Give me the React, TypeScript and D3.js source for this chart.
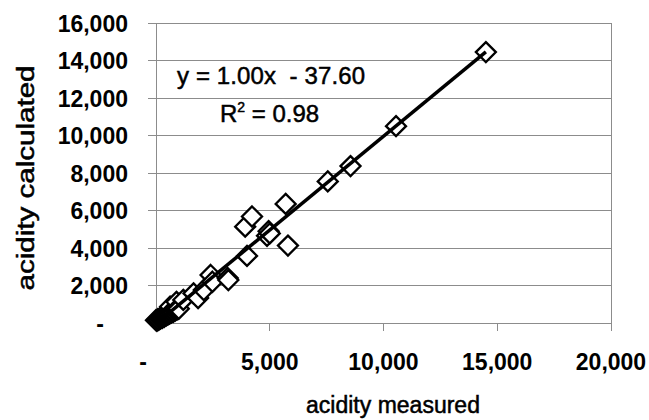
import * as d3 from 'd3';

// acidity measured (x) / acidity calculated (y)
const measured = [
  14500, 10550, 8550, 7550, 5700, 5800, 4220, 3920, 4950, 4880, 5000, 4000,
  3150, 2400, 2480, 3180, 1850, 1650, 2100, 1200, 900, 620,
  0, 40, 80, 120, 160, 200, 240, 280, 320, 360, 400, 440, 480, 520, 560,
  600, 640, 680, 720, 760, 800, 840, 880, 920, 960, 1000,
];
const calculated = [
  14450, 10500, 8370, 7550, 6350, 4130, 5680, 5140, 4900, 4650, 4780, 3580,
  2400, 2560, 2200, 2290, 1330, 1580, 1760, 1230, 1130, 870,
  150, 120, 200, 170, 250, 230, 300, 280, 360, 330, 420, 390, 470, 450, 520,
  500, 580, 560, 630, 600, 690, 660, 740, 710, 800, 760,
];

const xTicks = [0, 5000, 10000, 15000, 20000];
const yTicks = [0, 2000, 4000, 6000, 8000, 10000, 12000, 14000, 16000];

const slope = 1.0;
const intercept = -37.6;

const W = 649;
const H = 420;
const left = 156;
const right = 611;
const top = 23;
const bottom = 323;

const font = "'Liberation Sans', Arial, sans-serif";
const gridColor = '#8c8c8c';

export default function App() {
  const x = d3.scaleLinear().domain([0, 20000]).range([left, right]);
  const y = d3.scaleLinear().domain([0, 16000]).range([bottom, top]);
  const fmt = d3.format(',');
  const label = (v: number) => (v === 0 ? '-' : fmt(v));

  const xMin = d3.min(measured) as number;
  const xMax = d3.max(measured) as number;
  const trend = d3.line<number>()
    .x((d) => x(d))
    .y((d) => y(slope * d + intercept));

  // draw low values first so the crowded corner stacks up into a dark blob
  const order = d3.range(measured.length).sort((a, b) => measured[a] - measured[b]);

  const r = 10;
  const diamond = `M0,${-r}L${r},0L0,${r}L${-r},0Z`;

  // regular text a touch heavier, like the blurred original
  const heavy = { stroke: '#000', strokeWidth: 0.5 };

  return (
    <svg
      width={W}
      height={H}
      style={{ position: 'absolute', left: 0, top: 0, background: '#fff' }}
    >
      <rect x={0} y={0} width={W} height={H} fill="#fff" />

      {/* gridlines */}
      {yTicks.map((t) => (
        <line key={'g' + t} x1={left} x2={right} y1={y(t)} y2={y(t)}
          stroke={gridColor} strokeWidth={1} shapeRendering="crispEdges" />
      ))}
      <rect x={left} y={top} width={right - left} height={bottom - top}
        fill="none" stroke={gridColor} strokeWidth={1} shapeRendering="crispEdges" />

      {/* ticks */}
      {yTicks.map((t) => (
        <line key={'yt' + t} x1={left - 8} x2={left} y1={y(t)} y2={y(t)}
          stroke={gridColor} strokeWidth={1} shapeRendering="crispEdges" />
      ))}
      {xTicks.map((t) => (
        <line key={'xt' + t} x1={x(t)} x2={x(t)} y1={bottom} y2={bottom + 8}
          stroke={gridColor} strokeWidth={1} shapeRendering="crispEdges" />
      ))}

      {/* markers */}
      {order.map((i) => (
        <path key={'p' + i} d={diamond}
          transform={`translate(${x(measured[i])},${y(calculated[i])})`}
          fill="#fff" stroke="#000" strokeWidth={2.3} />
      ))}

      {/* trendline */}
      <path d={trend([xMin, xMax]) || ''} fill="none" stroke="#000" strokeWidth={3.5} />

      {/* tick labels */}
      {yTicks.map((t) => (
        <text key={'yl' + t} x={t === 0 ? 104 : 128} y={y(t) + 8.5}
          textAnchor="end" fontFamily={font} fontWeight="bold" fontSize={23} fill="#000">
          {label(t)}
        </text>
      ))}
      {xTicks.map((t) => (
        <text key={'xl' + t} x={x(t) + (t === 0 ? -13 : 0)} y={370}
          textAnchor="middle" fontFamily={font} fontWeight="bold" fontSize={23} fill="#000">
          {label(t)}
        </text>
      ))}

      {/* axis titles */}
      <text x={393} y={413} textAnchor="middle" fontFamily={font} fontSize={23} fill="#000" {...heavy}>
        acidity measured
      </text>
      <text transform="translate(34,178) rotate(-90)" textAnchor="middle"
        fontFamily={font} fontSize={23} fill="#000" {...heavy}
        textLength={225} lengthAdjust="spacingAndGlyphs">
        acidity calculated
      </text>

      {/* equation */}
      <text x={177} y={84} fontFamily={font} fontSize={24} fill="#000" {...heavy}
        textLength={188} style={{ whiteSpace: 'pre' }}>
        {'y = 1.00x  - 37.60'}
      </text>
      <text x={220} y={122} fontFamily={font} fontSize={24} fill="#000" {...heavy}>
        R<tspan fontSize={14} dy={-10}>2</tspan><tspan dy={10}>{' = 0.98'}</tspan>
      </text>
    </svg>
  );
}
